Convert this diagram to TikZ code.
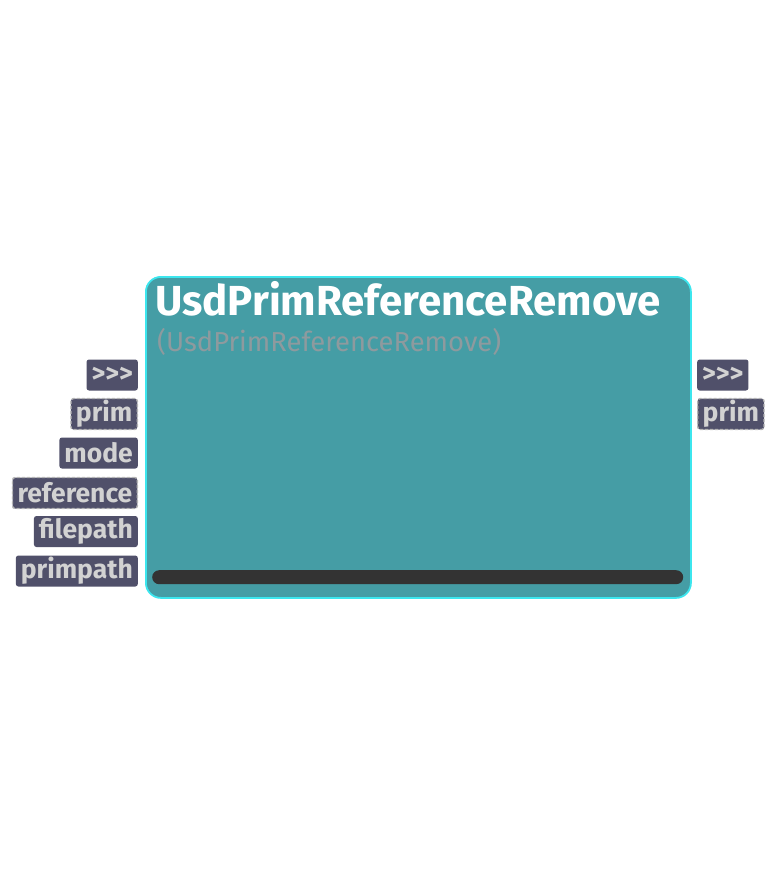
\documentclass[tikz,border=0pt]{standalone}
\usepackage{fontspec}
\setmainfont{Fira Sans}
\definecolor{nodefill}{HTML}{459DA5}
\definecolor{nodeedge}{HTML}{3CE6EE}
\definecolor{portfill}{HTML}{50506A}
\definecolor{porttext}{HTML}{D2D2D2}
\definecolor{portedge}{HTML}{B4B4B4}
\definecolor{subtext}{HTML}{8E9A9E}
\definecolor{barfill}{HTML}{333333}
\tikzset{
  port/.style={fill=portfill, rounded corners=2.5pt, inner sep=0pt, minimum height=31pt, text=porttext, font=\fontsize{26.5}{26}\selectfont\bfseries, inner xsep=5pt},
  portleft/.style={port, anchor=east},
  portright/.style={port, anchor=west},
  dashport/.style={draw=portedge, dashed, dash pattern=on 3pt off 2pt, line width=1.4pt},
}
\begin{document}
\begin{tikzpicture}[x=1pt,y=-1pt]
\useasboundingbox (0,0) rectangle (775,875);
\node[draw=nodeedge, line width=1.8pt, fill=nodefill, rounded corners=15pt, minimum width=545pt, minimum height=321pt, anchor=north west, inner sep=0pt] (main) at (145,276) {};
\node[anchor=base west, text=white, font=\fontsize{42}{42}\selectfont\bfseries, inner sep=0pt] (title) at (155,315) {UsdPrimReferenceRemove};
\node[anchor=base west, text=subtext, font=\fontsize{27.4}{27}\selectfont, inner sep=0pt] (sub) at (157,351) {(UsdPrimReferenceRemove)};
\node[fill=barfill, rounded corners=7pt, minimum width=531pt, minimum height=14pt, inner sep=0pt, anchor=north west] (bar) at (152,570) {};
\node[portleft] (in1) at (138,375) {>{}>{}>};
\node[portleft, dashport] (in2) at (138,414) {prim};
\node[portleft] (in3) at (138,453) {mode};
\node[portleft, dashport] (in4) at (138,493) {reference};
\node[portleft] (in5) at (138,531.5) {filepath};
\node[portleft] (in6) at (138,571) {primpath};
\node[portright] (out1) at (697,375) {>{}>{}>};
\node[portright, dashport] (out2) at (697,414) {prim};
\end{tikzpicture}
\end{document}
